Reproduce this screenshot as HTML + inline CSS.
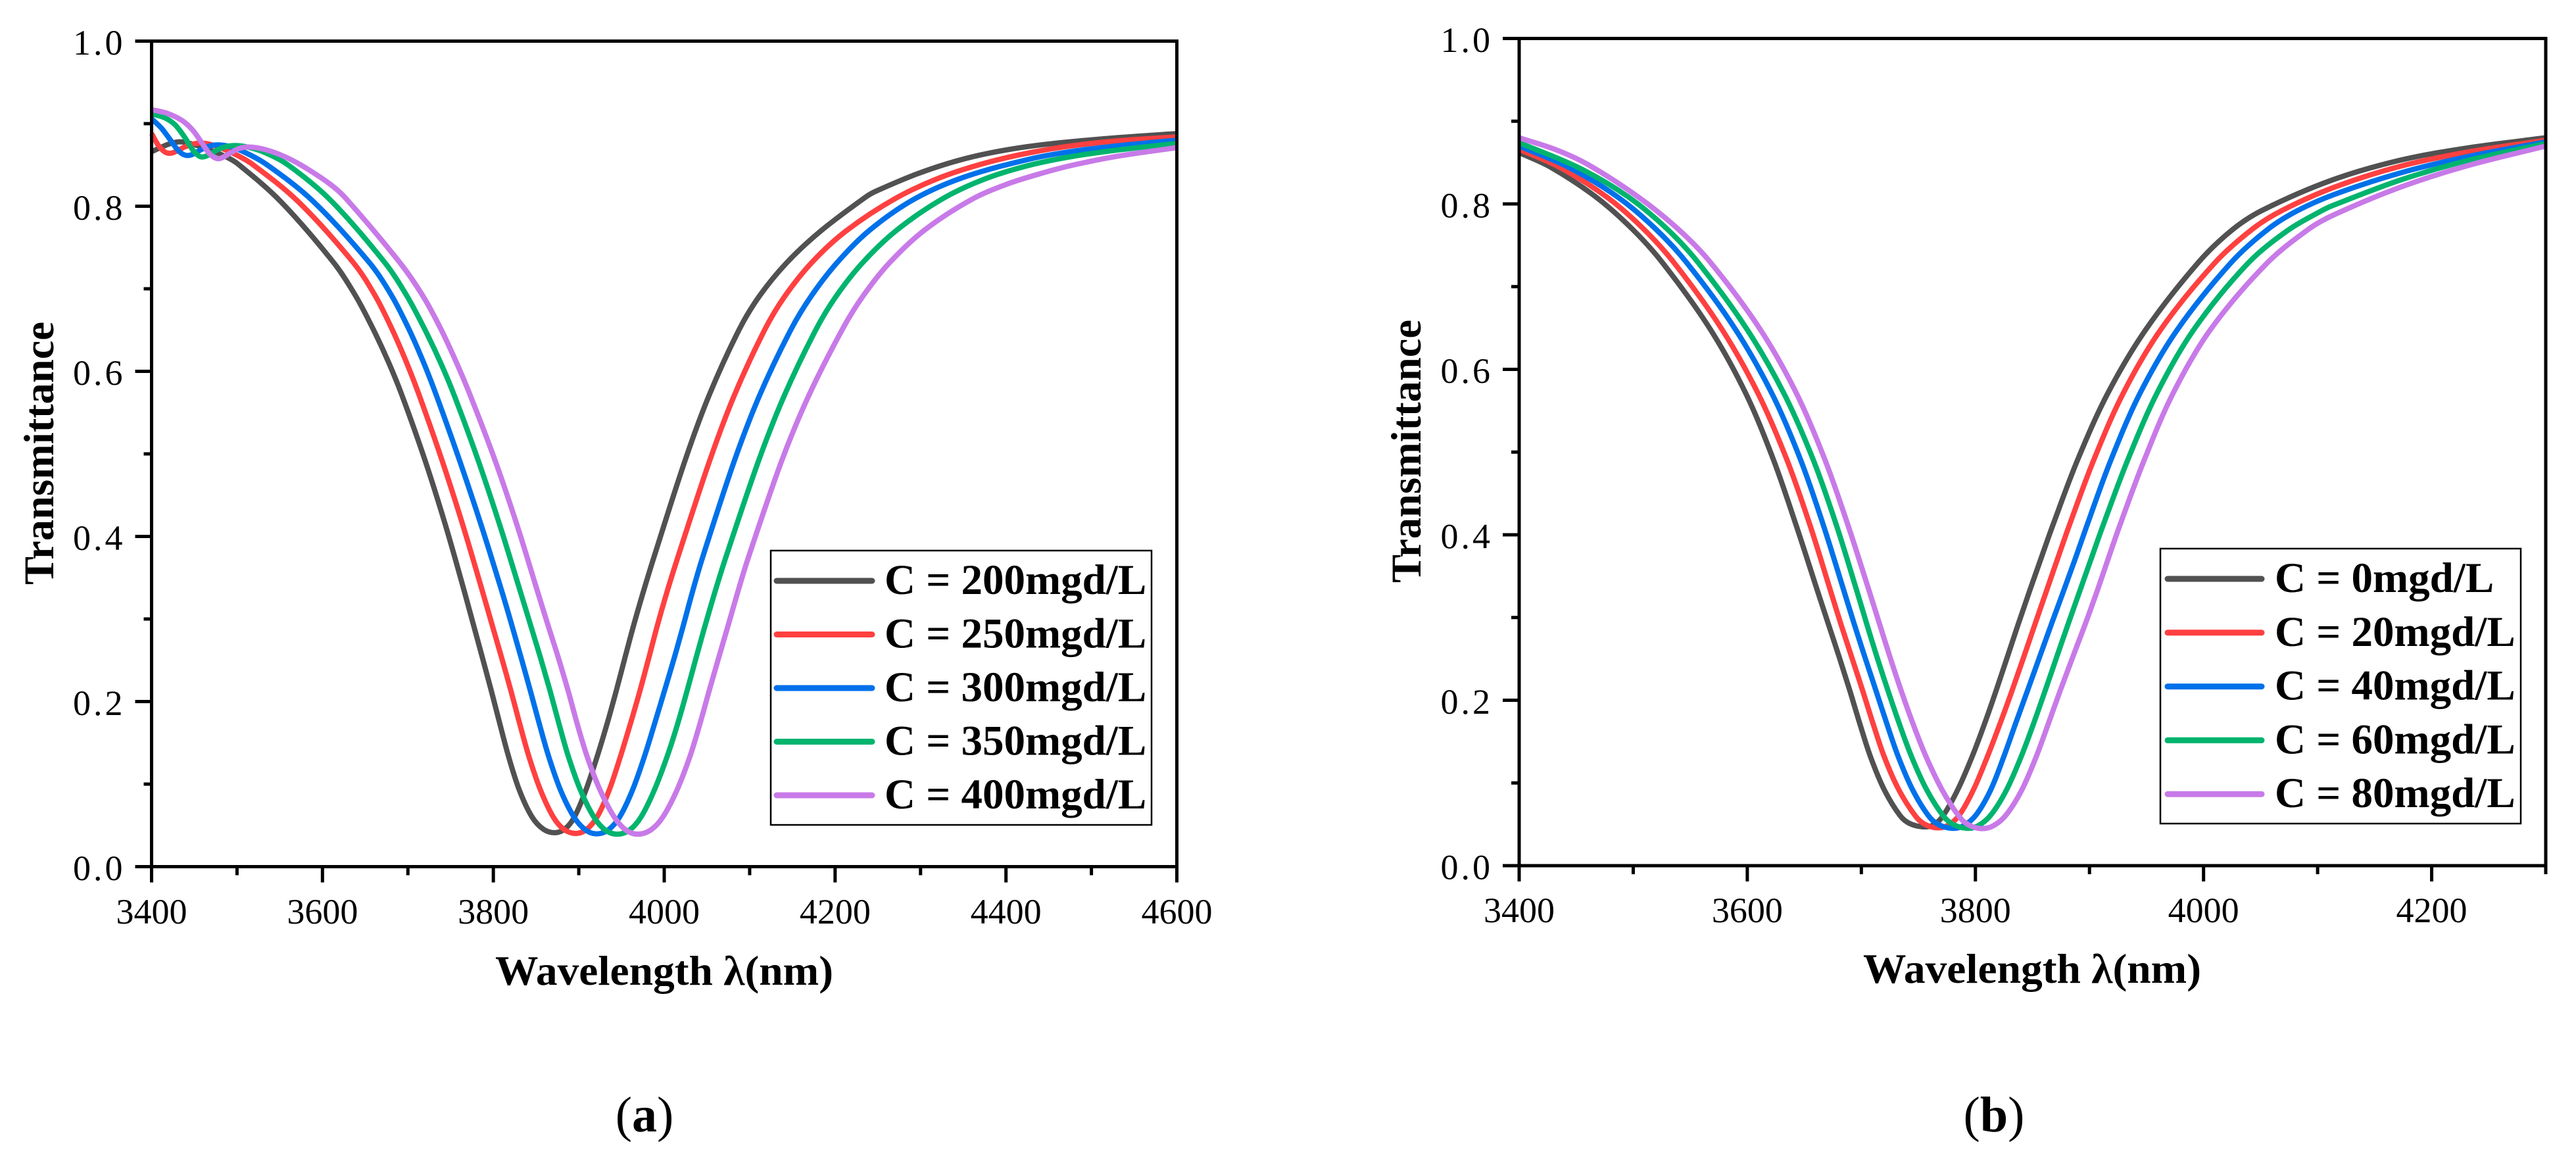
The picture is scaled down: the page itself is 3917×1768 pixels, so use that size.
<!DOCTYPE html>
<html lang="en">
<head>
<meta charset="utf-8">
<title>Transmittance spectra</title>
<style>
html,body{margin:0;padding:0;background:#fff;}
svg{display:block;font-family:"Liberation Serif","DejaVu Serif",serif;}
</style>
</head>
<body>
<svg id="figure" xmlns="http://www.w3.org/2000/svg" width="3917" height="1768" viewBox="0 0 3917 1768">
<rect x="0" y="0" width="3917" height="1768" fill="#fff"/>
<g id="panel-a"></g>
<g id="panel-b"></g>
<text x="980" y="1720" text-anchor="middle" font-size="76">(<tspan font-weight="700">a</tspan>)</text>
<text x="3032" y="1720" text-anchor="middle" font-size="76">(<tspan font-weight="700">b</tspan>)</text>
</svg>
<script>
// Shared axis data
const yTicks = [0, 0.2, 0.4, 0.6, 0.8, 1.0];
const yTickLabels = ['0.0', '0.2', '0.4', '0.6', '0.8', '1.0'];
const yMinorTicks = [0.1, 0.3, 0.5, 0.7, 0.9];
const seriesColors = ['#515151', '#ff4040', '#0071ea', '#00b46e', '#c87ae8'];

// Panel (a) axis data
const aXTicks = [3400, 3600, 3800, 4000, 4200, 4400, 4600];
const aXTickLabels = ['3400', '3600', '3800', '4000', '4200', '4400', '4600'];
const aXMinorTicks = [3500, 3700, 3900, 4100, 4300, 4500];
const aLegendLabels = ['C = 200mgd/L', 'C = 250mgd/L', 'C = 300mgd/L', 'C = 350mgd/L', 'C = 400mgd/L'];

// Panel (a) series
const a200Wavelength = [3400,3410,3421,3431,3441,3462,3487,3500,3554,3613,3638,3659,3677,3693,3720,3745,3766,3777,3787,3798,3808,3818,3831,3845,3858,3872,3885,3894,3908,3921,3933,3944,3954,3964,3975,3988,4025,4052,4088,4112,4144,4182,4236,4248,4300,4352,4402,4454,4531,4600];
const a200Transmittance = [.866,.870,.876,.878,.877,.870,.860,.850,.810,.731,.691,.651,.611,.571,.492,.412,.332,.292,.253,.213,.173,.133,.093,.061,.045,.041,.045,.061,.093,.133,.173,.213,.253,.292,.332,.372,.492,.571,.651,.691,.731,.771,.810,.818,.842,.857,.868,.876,.883,.888];
const a250Wavelength = [3400,3408,3415,3422,3429,3438,3452,3464,3479,3498,3517,3575,3636,3661,3681,3698,3713,3740,3765,3788,3798,3810,3821,3831,3842,3855,3871,3882,3896,3909,3922,3935,3948,3960,3972,3982,3992,4002,4017,4053,4082,4118,4142,4174,4212,4271,4325,4377,4428,4479,4531,4600];
const a250Transmittance = [.888,.874,.865,.864,.866,.873,.876,.876,.871,.862,.850,.810,.731,.691,.651,.611,.571,.492,.412,.332,.292,.253,.213,.173,.133,.093,.061,.045,.039,.045,.061,.093,.133,.173,.213,.253,.292,.332,.372,.492,.571,.651,.691,.731,.771,.810,.834,.853,.864,.873,.880,.884];
const a300Wavelength = [3400,3413,3423,3431,3440,3448,3459,3472,3487,3505,3533,3592,3655,3680,3701,3718,3733,3760,3787,3810,3822,3832,3844,3854,3865,3879,3894,3908,3921,3935,3948,3962,3977,3988,4000,4012,4023,4032,4045,4082,4112,4148,4173,4204,4240,4292,4352,4428,4479,4531,4600];
const a300Transmittance = [.906,.896,.880,.866,.861,.862,.870,.875,.873,.866,.850,.810,.731,.691,.651,.611,.571,.492,.412,.332,.292,.253,.213,.173,.133,.093,.061,.045,.038,.045,.061,.093,.133,.173,.213,.253,.292,.332,.372,.492,.571,.651,.691,.731,.771,.810,.834,.858,.865,.874,.880];
const a350Wavelength = [3400,3415,3428,3438,3448,3455,3462,3471,3479,3492,3508,3531,3559,3612,3673,3698,3719,3738,3754,3782,3809,3831,3844,3855,3867,3877,3888,3902,3918,3931,3945,3960,3973,3987,4004,4015,4027,4037,4048,4059,4072,4110,4141,4178,4202,4233,4272,4325,4377,4428,4479,4531,4600];
const a350Transmittance = [.912,.908,.900,.884,.869,.860,.859,.865,.870,.873,.873,.864,.850,.810,.731,.691,.651,.611,.571,.492,.412,.332,.292,.253,.213,.173,.133,.093,.061,.045,.037,.045,.061,.093,.133,.173,.213,.253,.292,.332,.372,.492,.571,.651,.691,.731,.771,.810,.832,.850,.860,.868,.876];
const a400Wavelength = [3400,3418,3436,3448,3459,3467,3475,3482,3492,3502,3513,3531,3552,3575,3608,3628,3691,3718,3738,3756,3773,3802,3829,3852,3863,3877,3888,3898,3910,3925,3942,3955,3969,3985,3998,4014,4031,4041,4052,4064,4075,4086,4098,4137,4169,4210,4233,4264,4305,4358,4402,4446,4479,4531,4600];
const a400Transmittance = [.917,.914,.904,.892,.878,.864,.857,.858,.865,.870,.872,.869,.861,.850,.826,.810,.731,.691,.651,.611,.571,.492,.412,.332,.292,.253,.213,.173,.133,.093,.061,.045,.037,.045,.061,.093,.133,.173,.213,.253,.292,.332,.372,.492,.571,.651,.691,.731,.771,.810,.825,.840,.850,.862,.871];

// Panel (b) axis data
const bXTicks = [3400, 3600, 3800, 4000, 4200];
const bXTickLabels = ['3400', '3600', '3800', '4000', '4200'];
const bXMinorTicks = [3500, 3700, 3900, 4100, 4300];
const bLegendLabels = ['C = 0mgd/L', 'C = 20mgd/L', 'C = 40mgd/L', 'C = 60mgd/L', 'C = 80mgd/L'];

// Panel (b) series
const b0Wavelength = [3400,3429,3467,3498,3526,3568,3599,3623,3642,3662,3671,3681,3690,3699,3708,3720,3734,3743,3756,3764,3772,3784,3797,3808,3818,3828,3837,3847,3858,3868,3889,3917,3948,3996,4026,4052,4112,4172,4230,4300];
const b0Transmittance = [.862,.848,.808,.768,.729,.649,.570,.490,.411,.331,.291,.251,.212,.172,.132,.092,.060,.051,.046,.051,.060,.092,.132,.172,.212,.251,.291,.331,.371,.411,.490,.570,.649,.729,.768,.792,.830,.852,.867,.880];
const b20Wavelength = [3400,3437,3477,3507,3537,3578,3609,3635,3655,3673,3682,3692,3701,3711,3720,3732,3748,3756,3767,3776,3787,3797,3810,3822,3832,3842,3852,3862,3872,3883,3903,3931,3961,4009,4044,4069,4115,4172,4230,4300];
const b20Transmittance = [.866,.848,.808,.768,.729,.649,.570,.490,.411,.331,.291,.251,.212,.172,.132,.092,.060,.050,.045,.050,.060,.092,.132,.172,.212,.251,.291,.331,.371,.411,.490,.570,.649,.729,.768,.792,.820,.846,.862,.877];
const b40Wavelength = [3400,3445,3486,3518,3548,3589,3622,3647,3666,3685,3694,3703,3713,3723,3732,3745,3759,3768,3780,3789,3802,3813,3824,3835,3846,3856,3866,3877,3888,3898,3918,3946,3975,4024,4057,4082,4115,4172,4230,4300];
const b40Transmittance = [.870,.848,.808,.768,.729,.649,.570,.490,.411,.331,.291,.251,.212,.172,.132,.092,.060,.050,.044,.050,.060,.092,.132,.172,.212,.251,.291,.331,.371,.411,.490,.570,.649,.729,.768,.792,.810,.838,.857,.875];
const b60Wavelength = [3400,3453,3495,3529,3557,3600,3632,3658,3678,3696,3705,3714,3723,3734,3744,3757,3772,3781,3793,3802,3815,3826,3840,3851,3861,3871,3881,3891,3902,3912,3933,3961,3990,4038,4074,4105,4115,4172,4230,4300];
const b60Transmittance = [.874,.848,.808,.768,.729,.649,.570,.490,.411,.331,.291,.251,.212,.172,.132,.092,.060,.050,.044,.050,.060,.092,.132,.172,.212,.251,.291,.331,.371,.411,.490,.570,.649,.729,.768,.792,.798,.831,.852,.873];
const b80Wavelength = [3400,3432,3461,3504,3539,3568,3612,3643,3668,3688,3707,3716,3726,3734,3746,3757,3770,3786,3794,3805,3815,3828,3840,3853,3864,3874,3885,3896,3907,3916,3927,3948,3975,4004,4054,4093,4115,4172,4230,4300];
const b80Transmittance = [.880,.866,.848,.808,.768,.729,.649,.570,.490,.411,.331,.291,.251,.212,.172,.132,.092,.060,.050,.043,.050,.060,.092,.132,.172,.212,.251,.291,.331,.371,.411,.490,.570,.649,.729,.768,.786,.821,.846,.870];

const NS = 'http://www.w3.org/2000/svg';

function node(tag, parent, attrs, text) {
  const n = document.createElementNS(NS, tag);
  for (const k in attrs) n.setAttribute(k, attrs[k]);
  if (text !== undefined) n.textContent = text;
  parent.appendChild(n);
  return n;
}

// Removes reading noise from hand-read points. Each point relaxes towards the chord
// between its neighbours at its own parametric position, so uneven spacing adds no kinks.
function denoise(pts, iterations) {
  function pass(src, f) {
    return src.map((p, i) => {
      if (i === 0 || i === src.length - 1) return p;
      const a = src[i - 1];
      const b = src[i + 1];
      const da = Math.hypot(p[0] - a[0], p[1] - a[1]) || 1;
      const db = Math.hypot(p[0] - b[0], p[1] - b[1]) || 1;
      const u = da / (da + db);
      const cx = a[0] + (b[0] - a[0]) * u;
      const cy = a[1] + (b[1] - a[1]) * u;
      return [p[0] + f * (cx - p[0]), p[1] + f * (cy - p[1])];
    });
  }
  let out = pts;
  for (let n = 0; n < iterations; n++) {
    out = pass(out, 0.5);
    out = pass(out, -0.53);
  }
  return out;
}

function smoothPath(pts) {
  let d = 'M' + pts[0][0].toFixed(2) + ' ' + pts[0][1].toFixed(2);
  function tangent(i) {
    const a = pts[Math.max(i - 1, 0)];
    const b = pts[Math.min(i + 1, pts.length - 1)];
    const dx = b[0] - a[0];
    const dy = b[1] - a[1];
    const len = Math.hypot(dx, dy) || 1;
    return [dx / len, dy / len];
  }
  for (let i = 0; i < pts.length - 1; i++) {
    const p = pts[i];
    const q = pts[i + 1];
    const seg = Math.hypot(q[0] - p[0], q[1] - p[1]) / 3;
    const t0 = tangent(i);
    const t1 = tangent(i + 1);
    d += 'C' + (p[0] + t0[0] * seg).toFixed(2) + ' ' + (p[1] + t0[1] * seg).toFixed(2) +
         ' ' + (q[0] - t1[0] * seg).toFixed(2) + ' ' + (q[1] - t1[1] * seg).toFixed(2) +
         ' ' + q[0].toFixed(2) + ' ' + q[1].toFixed(2);
  }
  return d;
}

function drawPanel(cfg) {
  const g = document.getElementById(cfg.id);
  const sx = v => cfg.left + (v - cfg.xMin) / (cfg.xMax - cfg.xMin) * (cfg.right - cfg.left);
  const sy = v => cfg.bottom - v * (cfg.bottom - cfg.top);

  // series
  cfg.series.forEach((s, i) => {
    const pts = s.x.map((v, j) => [sx(v), sy(s.y[j])]);
    const p = node('path', g, {d: smoothPath(denoise(pts, 4)), fill: 'none', stroke: seriesColors[i], 'stroke-width': 8, 'stroke-linejoin': 'round'});
    
    
  });

  // frame
  const frame = node('rect', g, {x: cfg.left, y: cfg.top, width: cfg.right - cfg.left, height: cfg.bottom - cfg.top, fill: 'none', stroke: '#000', 'stroke-width': 5});
  
  

  // y ticks
  yTicks.forEach((v, i) => {
    const t = node('line', g, {x1: cfg.left - 25, x2: cfg.left, y1: sy(v), y2: sy(v), stroke: '#000', 'stroke-width': 5});
    
    
    const l = node('text', g, {x: cfg.left - 40, y: sy(v) + 20.5, 'text-anchor': 'end', 'font-size': 54, 'letter-spacing': 4}, yTickLabels[i]);
    
    
  });
  yMinorTicks.forEach(v => {
    const t = node('line', g, {x1: cfg.left - 12, x2: cfg.left, y1: sy(v), y2: sy(v), stroke: '#000', 'stroke-width': 5});
    
    
  });

  // x ticks
  cfg.xTicks.forEach((v, i) => {
    const t = node('line', g, {x1: sx(v), x2: sx(v), y1: cfg.bottom, y2: cfg.bottom + 24, stroke: '#000', 'stroke-width': 5});
    
    
    const l = node('text', g, {x: sx(v), y: cfg.xLabelY, 'text-anchor': 'middle', 'font-size': 54}, cfg.xTickLabels[i]);
    
    
  });
  cfg.xMinorTicks.forEach(v => {
    const t = node('line', g, {x1: sx(v), x2: sx(v), y1: cfg.bottom, y2: cfg.bottom + 13, stroke: '#000', 'stroke-width': 5});
    
    
  });

  // axis titles
  const xt = node('text', g, {x: cfg.xTitleX, y: cfg.xTitleY, 'font-size': 64, 'font-weight': 700, textLength: 514, lengthAdjust: 'spacingAndGlyphs'}, 'Wavelength \u03bb(nm)');
  
  
  const yt = node('text', g, {transform: 'translate(' + cfg.yTitleX + ' ' + cfg.yTitleY + ') rotate(-90)', 'text-anchor': 'middle', 'font-size': 64.5, 'font-weight': 700}, 'Transmittance');
  
  

  // legend
  const box = node('rect', g, {x: cfg.legendX, y: cfg.legendY, width: cfg.legendW, height: cfg.legendH, fill: '#fff', stroke: '#000', 'stroke-width': 2.5});
  
  
  cfg.legendLabels.forEach((label, i) => {
    const y = cfg.legendFirstY + i * cfg.legendStep;
    const s = node('line', g, {x1: cfg.legendLineX1, x2: cfg.legendLineX2, y1: y, y2: y, stroke: seriesColors[i], 'stroke-width': 9, 'stroke-linecap': 'round'});
    
    
    const t = node('text', g, {x: cfg.legendTextX, y: y + 20, 'font-size': 65, 'font-weight': 700}, label);
    
    
  });
}

drawPanel({
  id: 'panel-a', left: 230.5, right: 1789.5, top: 62.5, bottom: 1317.5,
  xMin: 3400, xMax: 4600,
  xTicks: aXTicks, xTickLabels: aXTickLabels, xMinorTicks: aXMinorTicks,
  xLabelY: 1404, xTitleX: 753, xTitleY: 1497, yTitleX: 81, yTitleY: 689,
  legendX: 1172, legendY: 837, legendW: 579, legendH: 417,
  legendFirstY: 883, legendStep: 81.5, legendLineX1: 1181, legendLineX2: 1326, legendTextX: 1345,
  legendLabels: aLegendLabels,
  series: [
    {x: a200Wavelength, y: a200Transmittance},
    {x: a250Wavelength, y: a250Transmittance},
    {x: a300Wavelength, y: a300Transmittance},
    {x: a350Wavelength, y: a350Transmittance},
    {x: a400Wavelength, y: a400Transmittance}
  ]
});

drawPanel({
  id: 'panel-b', left: 2310, right: 3871, top: 58.5, bottom: 1316,
  xMin: 3400, xMax: 4300,
  xTicks: bXTicks, xTickLabels: bXTickLabels, xMinorTicks: bXMinorTicks,
  xLabelY: 1402, xTitleX: 2833, xTitleY: 1494, yTitleX: 2160, yTitleY: 686,
  legendX: 3285, legendY: 834, legendW: 548, legendH: 418,
  legendFirstY: 880, legendStep: 81.8, legendLineX1: 3296, legendLineX2: 3439, legendTextX: 3459,
  legendLabels: bLegendLabels,
  series: [
    {x: b0Wavelength, y: b0Transmittance},
    {x: b20Wavelength, y: b20Transmittance},
    {x: b40Wavelength, y: b40Transmittance},
    {x: b60Wavelength, y: b60Transmittance},
    {x: b80Wavelength, y: b80Transmittance}
  ]
});
</script>
</body>
</html>
